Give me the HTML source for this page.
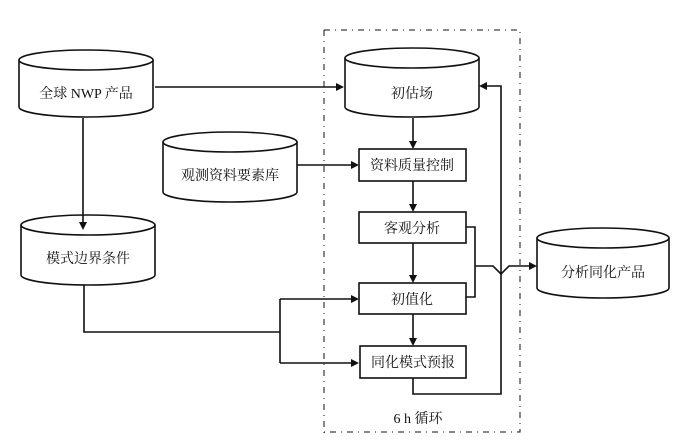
<!DOCTYPE html>
<html><head><meta charset="utf-8"><style>
html,body{margin:0;padding:0;background:#fff;}
svg{display:block;}
text{font-family:"Liberation Serif","Noto Serif CJK SC","Noto Sans CJK SC",serif;font-size:14px;fill:#111;text-anchor:middle;}
</style></head><body>
<svg width="686" height="447" viewBox="0 0 686 447" xmlns="http://www.w3.org/2000/svg">
<g fill="none" stroke="#111" stroke-width="1.6">
<!-- dashed loop box -->
<path d="M324 30 V435 M324 30 H520 V432 H324" stroke-dasharray="6 5 1 5" stroke-width="1"/>
<!-- cylinders -->
<path d="M19 60 V107 A67 10 0 0 0 153 107 V60"/><ellipse cx="86" cy="60" rx="67" ry="10"/>
<path d="M345 58 V107 A67 10 0 0 0 479 107 V58"/><ellipse cx="412" cy="58" rx="67" ry="10"/>
<path d="M163 142 V192 A67 10 0 0 0 297 192 V142"/><ellipse cx="230" cy="142" rx="67" ry="10"/>
<path d="M21 225 V275 A67 10 0 0 0 155 275 V225"/><ellipse cx="88" cy="225" rx="67" ry="10"/>
<path d="M537 238 V288 A66 10 0 0 0 669 288 V238"/><ellipse cx="603" cy="238" rx="66" ry="10"/>
<!-- boxes -->
<rect x="359" y="149" width="107" height="32"/>
<rect x="359" y="212" width="107" height="31"/>
<rect x="359" y="283" width="107" height="31"/>
<rect x="360" y="346" width="106" height="32"/>
<!-- connectors -->
<path d="M155 87 H338"/>
<path d="M83 118 V224"/>
<path d="M297 165 H356"/>
<path d="M413 118 V146 M413 181 V209 M413 243 V280 M413 314 V343"/>
<path d="M84 285 V332 H280 M280 299 V363 M280 299 H356 M280 363 H356"/>
<path d="M466 227 H475 V297 H466"/>
<path d="M475 266 H493 L501 274 L509 266 H533"/>
<path d="M413 378 V394 H501 V86 H483"/>
</g>
<g fill="#111">
<polygon points="344,87 336,83 336,91"/>
<polygon points="83,230 79,222 87,222"/>
<polygon points="359,165 351,161 351,169"/>
<polygon points="413,149 409,141 417,141"/>
<polygon points="413,212 409,204 417,204"/>
<polygon points="413,283 409,275 417,275"/>
<polygon points="413,346 409,338 417,338"/>
<polygon points="359,299 351,295 351,303"/>
<polygon points="359,363 351,359 351,367"/>
<polygon points="537,266 529,262 529,270"/>
<polygon points="479,86 487,82 487,90"/>
</g>
<text x="86" y="98">全球 NWP 产品</text>
<text x="412" y="98">初估场</text>
<text x="230" y="180">观测资料要素库</text>
<text x="88" y="263">模式边界条件</text>
<text x="603" y="277">分析同化产品</text>
<text x="412" y="170">资料质量控制</text>
<text x="412" y="233">客观分析</text>
<text x="412" y="304">初值化</text>
<text x="413" y="367">同化模式预报</text>
<text x="418" y="423">6 h 循环</text>
</svg>
</body></html>
